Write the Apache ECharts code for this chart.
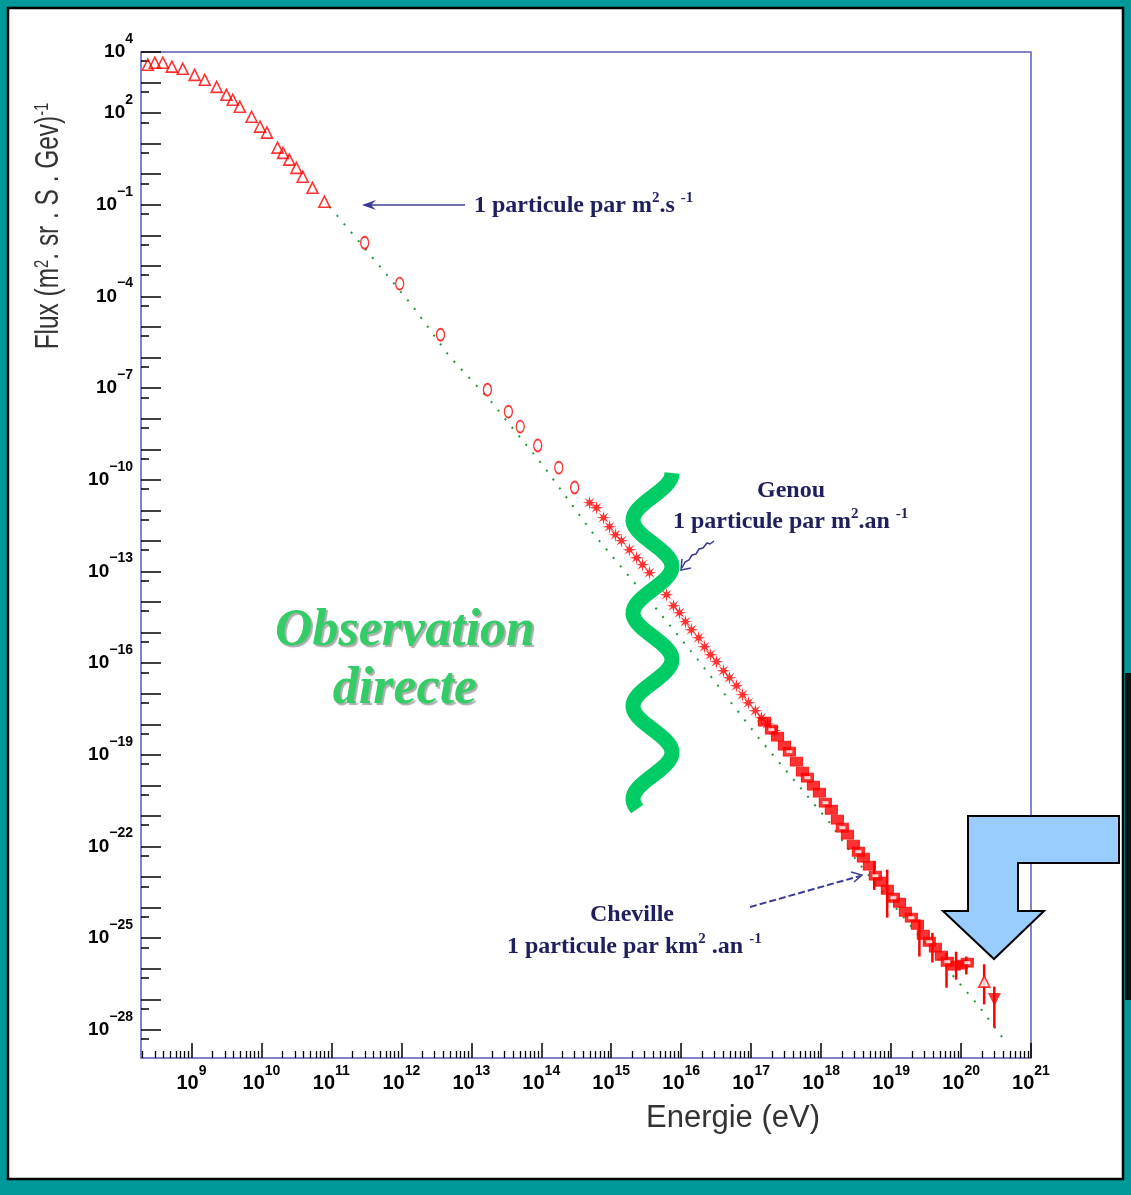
<!DOCTYPE html>
<html><head><meta charset="utf-8">
<script src="https://cdn.jsdelivr.net/npm/echarts@6/dist/echarts.min.js"></script>
<style>html,body{margin:0;padding:0;background:#009999}#c{width:1131px;height:1195px}</style>
</head><body><div id="c"></div>
<script>
// ---------- axis ranges & tick labels ----------
const X_MIN = 1.9e8, X_MAX = 1e21;
const Y_MIN = 1.2e-29, Y_MAX = 1e4;
const X_LABEL_EXPONENTS = [9, 10, 11, 12, 13, 14, 15, 16, 17, 18, 19, 20, 21];
const Y_LABEL_EXPONENTS = [4, 2, -1, -4, -7, -10, -13, -16, -19, -22, -25, -28];
const X_MINOR_MULTIPLIERS = [2, 3, 4, 5, 6, 7, 8, 9];
const Y_MINOR_MULTIPLIERS = [5];

// ---------- data (Energy eV, Flux) ----------
const directTriangles = [[2.38e8,3.84e3],[2.99e8,4.47e3],[3.89e8,4.47e3],[5.25e8,3.31e3],[7.52e8,2.82e3],[1.11e9,1.78e3],[1.55e9,1.23e3],[2.29e9,7.24e2],[3.16e9,3.98e2],[3.89e9,2.75e2],[4.9e9,1.62e2],[7.24e9,7.6e1],[9.55e9,3.6e1],[1.2e10,2.3e1],[1.7e10,7.4],[2.04e10,5.0],[2.5e10,3.0],[3.16e10,1.62],[3.89e10,0.83],[5.37e10,0.36],[7.94e10,0.126]];
const directCircles = [[2.99e11,5.75e-3],[9.46e11,2.63e-4],[3.63e12,5.6e-6],[1.7e13,8.9e-8],[3.39e13,1.7e-8],[5.0e13,5.5e-9],[8.9e13,1.32e-9],[1.78e14,2.5e-10],[3.0e14,5.6e-11]];
const starsData = [[4.9e14,1.79e-11],[6.17e14,1.22e-11],[7.76e14,5.77e-12],[9.46e14,2.92e-12],[1.15e15,1.6e-12],[1.4e15,1.02e-12],[1.82e15,5.16e-13],[2.3e15,2.82e-13],[2.8e15,1.67e-13],[3.52e15,9.1e-14],[4.74e15,3.7e-14],[6.17e15,1.74e-14],[7.76e15,7.6e-15],[9.46e15,4.48e-15],[1.15e16,2.28e-15],[1.4e16,1.24e-15],[1.77e16,6.8e-16],[2.15e16,3.46e-16],[2.62e16,1.89e-16],[3.19e16,1.12e-16],[4.02e16,5.66e-17],[4.9e16,3.34e-17],[6.17e16,1.83e-17],[7.52e16,9.3e-18],[9.14e16,5.08e-18],[1.15e17,2.78e-18],[1.4e17,1.64e-18],[1.71e17,1.04e-18],[2.15e17,6.2e-19]];
const highEnergyData = [[1.55e17,1.22e-18],[1.95e17,6.67e-19],[2.38e17,3.94e-19],[2.99e17,2.0e-19],[3.52e17,1.27e-19],[4.44e17,5.98e-20],[5.41e17,2.82e-20],[6.37e17,1.79e-20],[7.76e17,9.8e-21],[9.46e17,5.78e-21],[1.15e18,2.72e-21],[1.4e18,1.6e-21],[1.71e18,7.55e-22],[2.01e18,4.13e-22],[2.38e18,2.44e-22],[2.89e18,1.15e-22],[3.41e18,6.76e-23],[4.02e18,4.31e-23],[4.9e18,2.36e-23],[5.97e18,1.11e-23],[7.26e18,7.05e-24],[8.85e18,3.86e-24],[1.08e19,2.11e-24],[1.32e19,1.45e-24],[1.6e19,7.36e-25],[1.95e19,4.69e-25],[2.38e19,2.76e-25],[2.89e19,1.3e-25],[3.52e19,7.67e-26],[4.3e19,4.89e-26],[5.24e19,2.67e-26],[6.37e19,1.7e-26],[8.02e19,1.26e-26],[1.01e20,1.36e-26],[1.23e20,1.58e-26]];
const errorBars = [[5.75e18,3.8e-24,3.2e-23],[8.8e18,4.7e-25,1.75e-23],[2.54e19,2.5e-26,4.1e-25],[3.9e19,1.6e-26,1.5e-25],[6.2e19,2.4e-27,3.4e-26],[8.5e19,4.4e-27,3.6e-26],[1.19e20,6.5e-27,2.5e-26],[2.14e20,6.8e-28,1.4e-26],[2.99e20,1.2e-28,2.6e-27]];
const highOpenTriangle = [[2.15e20,3.8e-27]];
const highDownTriangle = [[3.0e20,9.8e-28]];
const fitLine = [[9.46e10,8.67e-2],[3.77e11,2.0e-3],[1.4e12,5.38e-5],[4.9e12,1.07e-6],[1.82e13,4.2e-8],[1.04e14,3.1e-10],[5.4e14,1.86e-12],[4.9e15,4.5e-15],[1.82e16,1.12e-16],[1.23e17,4.0e-19],[1.31e18,6.2e-22],[3.3e18,3.2e-23],[3.19e19,6.2e-26],[1.82e20,5.8e-28],[3.9e20,5.6e-29]];

// ---------- derived tick positions (exponent space) ----------
const LX0 = Math.log10(X_MIN), LX1 = Math.log10(X_MAX);
const LY0 = Math.log10(Y_MIN), LY1 = Math.log10(Y_MAX);
const xMajorTicks = [], xMinorTicks = [], yMajorTicks = [], yMinorTicks = [];
for (let n = Math.ceil(LX0); n <= LX1; n++) xMajorTicks.push(n);
for (let n = Math.ceil(LY0); n <= LY1; n++) yMajorTicks.push(n);
for (let n = Math.floor(LX0); n < LX1; n++) X_MINOR_MULTIPLIERS.forEach(m => { const v = n + Math.log10(m); if (v > LX0 && v < LX1) xMinorTicks.push(v); });
for (let n = Math.floor(LY0); n < LY1; n++) Y_MINOR_MULTIPLIERS.forEach(m => { const v = n + Math.log10(m); if (v > LY0 && v < LY1) yMinorTicks.push(v); });

const supTxt = v => String(Math.round(v)).replace('-', '\u2212');
const richX = {
  b: {fontFamily: 'Liberation Sans', fontWeight: 'bold', fontSize: 20, lineHeight: 38, color: '#000', verticalAlign: 'middle'},
  s: {fontFamily: 'Liberation Sans', fontWeight: 'bold', fontSize: 14, color: '#000', verticalAlign: 'top'}
};
const richY = {
  b: {fontFamily: 'Liberation Sans', fontWeight: 'bold', fontSize: 19, lineHeight: 40, color: '#000', verticalAlign: 'middle'},
  s: {fontFamily: 'Liberation Sans', fontWeight: 'bold', fontSize: 14, color: '#000', verticalAlign: 'top'}
};

const STAR = 'path://M10,0 L11.34,6.77 L17.07,2.93 L13.23,8.66 L20,10 L13.23,11.34 L17.07,17.07 L11.34,13.23 L10,20 L8.66,13.23 L2.93,17.07 L6.77,11.34 L0,10 L6.77,8.66 L2.93,2.93 L8.66,6.77 Z';
const RED = '#ff0000', NAVY = '#1f1f5f', ARROW = '#3c3c96';
const SERIF = '"Liberation Serif", "DejaVu Serif", serif';

// decorative wave (pixel shape)
const wavePts = [];
for (let y = 473; y <= 810; y += 3) wavePts.push([652.5 - 19.5 * Math.cos(2 * Math.PI * (y - 520) / 93), y]);

const hiddenLine = {show: false, onZero: false};
const chart = echarts.init(document.getElementById('c'));
chart.setOption({
  animation: false,
  backgroundColor: '#009999',
  grid: {left: 141, right: 100, top: 52, bottom: 137, show: true, borderColor: '#5b5bb5', borderWidth: 1.5, backgroundColor: 'transparent', containLabel: false, outerBoundsMode: 'none'},
  xAxis: [
    {type: 'log', logBase: 10, min: X_MIN, max: X_MAX, show: false, axisLine: hiddenLine},
    {type: 'value', min: LX0, max: LX1, position: 'bottom', axisLine: hiddenLine, splitLine: {show: false},
      axisTick: {show: true, inside: true, length: 15, customValues: xMajorTicks, lineStyle: {color: '#000', width: 1.5}},
      axisLabel: {show: true, customValues: X_LABEL_EXPONENTS, margin: 6, formatter: v => '{b|10}{s|' + supTxt(v) + '}', rich: richX}},
    {type: 'value', min: LX0, max: LX1, position: 'bottom', axisLine: hiddenLine, splitLine: {show: false},
      axisTick: {show: true, inside: true, length: 7, customValues: xMinorTicks, lineStyle: {color: '#000', width: 1.3}},
      axisLabel: {show: false}}
  ],
  yAxis: [
    {type: 'log', logBase: 10, min: Y_MIN, max: Y_MAX, show: false, axisLine: hiddenLine},
    {type: 'value', min: LY0, max: LY1, position: 'left', axisLine: hiddenLine, splitLine: {show: false},
      axisTick: {show: true, inside: true, length: 20, customValues: yMajorTicks, lineStyle: {color: '#000', width: 1.5}},
      axisLabel: {show: true, customValues: Y_LABEL_EXPONENTS, margin: 8, formatter: v => '{b|10}{s|' + supTxt(v) + '}', rich: richY}},
    {type: 'value', min: LY0, max: LY1, position: 'left', axisLine: hiddenLine, splitLine: {show: false},
      axisTick: {show: true, inside: true, length: 8, customValues: yMinorTicks, lineStyle: {color: '#000', width: 1.5}},
      axisLabel: {show: false}}
  ],
  series: [
    {name: 'Ajustement', type: 'line', data: fitLine, showSymbol: false, symbol: 'none', z: 1,
      lineStyle: {color: '#1f9a3c', width: 2, type: [2, 9]}},
    {name: 'Directe (triangles)', type: 'scatter', data: directTriangles, symbol: 'triangle', symbolSize: 11, z: 3,
      itemStyle: {color: 'rgba(255,255,255,0)', borderColor: RED, borderWidth: 1.6}},
    {name: 'Directe (cercles)', type: 'scatter', data: directCircles, symbol: 'circle', symbolSize: [8, 12], z: 3,
      itemStyle: {color: 'rgba(255,255,255,0)', borderColor: RED, borderWidth: 1.6}},
    {name: 'Etoiles', type: 'scatter', data: starsData, symbol: STAR, symbolSize: 14, z: 3,
      itemStyle: {color: RED}},
    {name: 'Barres', type: 'custom', data: errorBars, encode: {x: 0, y: [1, 2]}, z: 3,
      renderItem: (params, api) => {
        const p1 = api.coord([api.value(0), api.value(1)]);
        const p2 = api.coord([api.value(0), api.value(2)]);
        return {type: 'line', shape: {x1: p1[0], y1: p1[1], x2: p2[0], y2: p2[1]}, style: {stroke: RED, lineWidth: 2.5}};
      }},
    {name: 'Haute energie', type: 'scatter', data: highEnergyData, symbol: 'rect', symbolSize: [12, 9], z: 4,
      itemStyle: {color: RED, borderColor: RED, borderWidth: 1}},
    {name: 'Haute energie (contour)', type: 'scatter', data: highEnergyData.filter((d, i) => i % 3 === 1), symbol: 'rect', symbolSize: [6, 3], z: 5,
      itemStyle: {color: '#ffffff'}},
    {name: 'Triangle ouvert', type: 'scatter', data: highOpenTriangle, symbol: 'triangle', symbolSize: 11, z: 4,
      itemStyle: {color: '#ffffff', borderColor: RED, borderWidth: 1.6}},
    {name: 'Triangle plein', type: 'scatter', data: highDownTriangle, symbol: 'triangle', symbolRotate: 180, symbolSize: 13, z: 4,
      itemStyle: {color: RED}}
  ],
  graphic: {elements: [
    {type: 'rect', z: -100, shape: {x: 8, y: 8, width: 1115, height: 1171}, style: {fill: '#ffffff', stroke: '#000', lineWidth: 2.5}},
    {type: 'rect', z: 50, shape: {x: 1125, y: 673, width: 6, height: 327}, style: {fill: '#111111'}},
    // axis titles
    {type: 'text', z: 50, x: 733, y: 1118, style: {text: 'Energie (eV)', font: '31px "Liberation Sans", Arial, sans-serif', fill: '#333', align: 'center', verticalAlign: 'middle'}},
    {type: 'text', z: 50, x: 49, y: 226, rotation: Math.PI / 2, scaleX: 0.74, style: {
      text: 'Flux (m{s|2}. sr . S . Gev){s|-1}', align: 'center', verticalAlign: 'middle',
      font: '33px "Liberation Sans", Arial, sans-serif', fill: '#333',
      rich: {s: {fontSize: 20, fontFamily: 'Liberation Sans', fill: '#333', verticalAlign: 'top'}}}},
    // green wave
    {type: 'polyline', z: 40, shape: {points: wavePts}, style: {stroke: '#00cc66', lineWidth: 15, fill: null}},
    // Observation directe
    {type: 'text', z: 40, x: 405, y: 632, style: {text: 'Observation', font: 'italic bold 52px ' + SERIF, fill: '#33cc66', align: 'center', verticalAlign: 'middle', textShadowColor: 'rgba(90,90,90,0.5)', textShadowOffsetX: 2, textShadowOffsetY: 2, textShadowBlur: 1}},
    {type: 'text', z: 40, x: 405, y: 690, style: {text: 'directe', font: 'italic bold 52px ' + SERIF, fill: '#33cc66', align: 'center', verticalAlign: 'middle', textShadowColor: 'rgba(90,90,90,0.5)', textShadowOffsetX: 2, textShadowOffsetY: 2, textShadowBlur: 1}},
    // annotation 1
    {type: 'line', z: 40, shape: {x1: 465, y1: 205, x2: 364, y2: 205}, style: {stroke: ARROW, lineWidth: 1.5}},
    {type: 'polygon', z: 40, shape: {points: [[376, 200], [362, 205], [376, 210], [371, 205]]}, style: {fill: ARROW}},
    {type: 'text', z: 40, x: 474, y: 206, style: {text: '{t|1 particule par m}{s|2}{t|.s }{s|-1}', align: 'left', verticalAlign: 'middle',
      rich: {t: {font: 'bold 24px ' + SERIF, fill: NAVY, lineHeight: 30, verticalAlign: 'middle'}, s: {font: 'bold 15px ' + SERIF, fill: NAVY, verticalAlign: 'top'}}}},
    // Genou
    {type: 'text', z: 40, x: 791, y: 491, style: {text: 'Genou', font: 'bold 24px ' + SERIF, fill: NAVY, align: 'center', verticalAlign: 'middle'}},
    {type: 'text', z: 40, x: 673, y: 522, style: {text: '{t|1 particule par m}{s|2}{t|.an }{s|-1}', align: 'left', verticalAlign: 'middle',
      rich: {t: {font: 'bold 24px ' + SERIF, fill: NAVY, lineHeight: 30, verticalAlign: 'middle'}, s: {font: 'bold 15px ' + SERIF, fill: NAVY, verticalAlign: 'top'}}}},
    {type: 'polyline', z: 40, shape: {points: [[714, 541], [710, 544], [707, 543], [703, 548], [699, 549], [696, 554], [692, 555], [689, 560], [685, 562], [682, 568]]}, style: {stroke: ARROW, lineWidth: 1.5, fill: null}},
    {type: 'polyline', z: 40, shape: {points: [[682, 559], [681, 570], [691, 568]]}, style: {stroke: ARROW, lineWidth: 1.5, fill: null}},
    // Cheville
    {type: 'text', z: 40, x: 632, y: 915, style: {text: 'Cheville', font: 'bold 24px ' + SERIF, fill: NAVY, align: 'center', verticalAlign: 'middle'}},
    {type: 'text', z: 40, x: 507, y: 947, style: {text: '{t|1 particule par km}{s|2}{t| .an }{s|-1}', align: 'left', verticalAlign: 'middle',
      rich: {t: {font: 'bold 24px ' + SERIF, fill: NAVY, lineHeight: 30, verticalAlign: 'middle'}, s: {font: 'bold 15px ' + SERIF, fill: NAVY, verticalAlign: 'top'}}}},
    {type: 'line', z: 40, shape: {x1: 750, y1: 907, x2: 860, y2: 876}, style: {stroke: ARROW, lineWidth: 2, lineDash: [7, 3]}},
    {type: 'polyline', z: 40, shape: {points: [[851, 872], [862, 875], [854, 882]]}, style: {stroke: ARROW, lineWidth: 1.5, fill: null}},
    // blue bent arrow
    {type: 'polygon', z: 45, shape: {points: [[968, 816], [1119, 816], [1119, 863], [1018, 863], [1018, 911], [1044, 911], [994, 959], [943, 911], [968, 911]]}, style: {fill: '#99ccff', stroke: '#000', lineWidth: 2}}
  ]}
});
</script>
</body></html>
